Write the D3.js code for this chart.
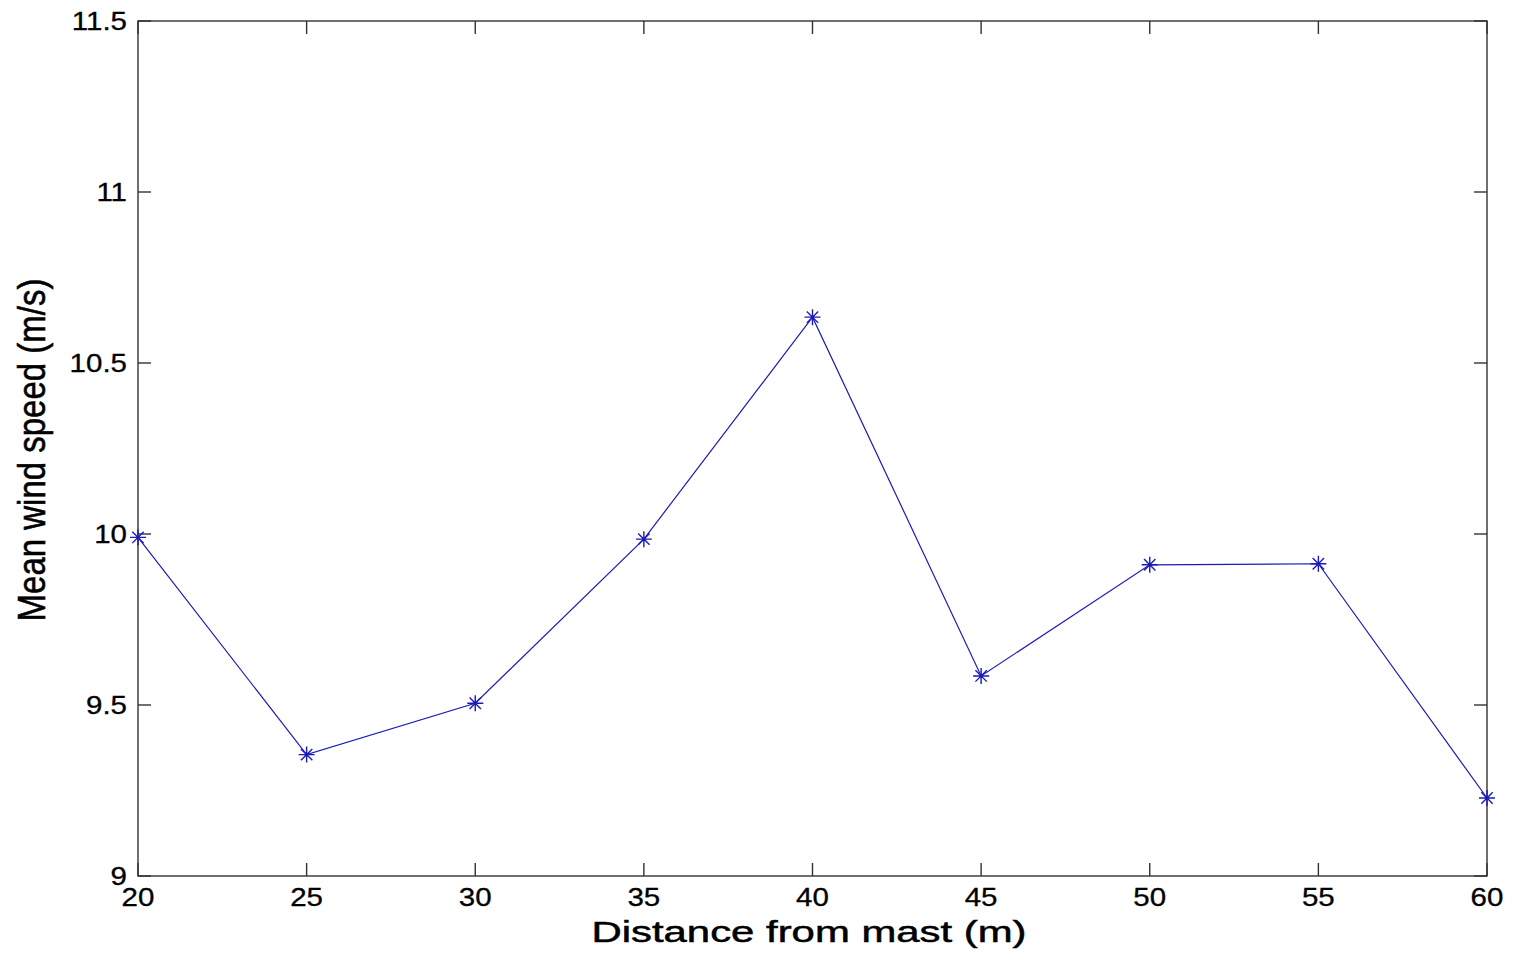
<!DOCTYPE html>
<html>
<head>
<meta charset="utf-8">
<script src="https://cdn.jsdelivr.net/npm/d3@7"></script>
<style>
  body { margin: 0; background: #fff; }
  text { font-family: "Liberation Sans", Arial, sans-serif; fill: #000; stroke: #000; }
</style>
</head>
<body>
<svg id="chart" width="1513" height="953"></svg>
<script>
const distances = [20, 25, 30, 35, 40, 45, 50, 55, 60];
const meanSpeed = [9.99, 9.355, 9.505, 9.985, 10.634, 9.585, 9.91, 9.913, 9.228];
const xTicks = [20, 25, 30, 35, 40, 45, 50, 55, 60];
const yTicks = [9, 9.5, 10, 10.5, 11, 11.5];

const svg = d3.select("#chart");
const margin = { left: 138, right: 1487, top: 21, bottom: 876 };

const x = d3.scaleLinear().domain([20, 60]).range([margin.left, margin.right]);
const y = d3.scaleLinear().domain([9, 11.5]).range([margin.bottom, margin.top]);
const tickLen = 13;
const stretch = 1.18; // the picture is wider than tall, text looks stretched

// box
svg.append("rect")
  .attr("x", margin.left).attr("y", margin.top)
  .attr("width", margin.right - margin.left)
  .attr("height", margin.bottom - margin.top)
  .attr("fill", "none").attr("stroke", "#333").attr("stroke-width", 1.4);

// ticks, inward on all sides
const tickGroup = svg.append("g").attr("stroke", "#333").attr("stroke-width", 1.4);
xTicks.forEach(t => {
  tickGroup.append("line").attr("x1", x(t)).attr("x2", x(t))
    .attr("y1", margin.bottom).attr("y2", margin.bottom - tickLen);
  tickGroup.append("line").attr("x1", x(t)).attr("x2", x(t))
    .attr("y1", margin.top).attr("y2", margin.top + tickLen);
});
yTicks.forEach(t => {
  tickGroup.append("line").attr("y1", y(t)).attr("y2", y(t))
    .attr("x1", margin.left).attr("x2", margin.left + tickLen);
  tickGroup.append("line").attr("y1", y(t)).attr("y2", y(t))
    .attr("x1", margin.right).attr("x2", margin.right - tickLen);
});

// tick labels
svg.append("g").selectAll("text")
  .data(xTicks).enter().append("text")
  .attr("transform", d => `translate(${x(d)},${margin.bottom + 30}) scale(${stretch},1)`)
  .attr("text-anchor", "middle")
  .attr("stroke-width", 0.3)
  .style("font-size", "25px")
  .text(d => d);

svg.append("g").selectAll("text")
  .data(yTicks).enter().append("text")
  .attr("transform", d => `translate(${margin.left - 11},${y(d) + 9}) scale(${stretch},1)`)
  .attr("text-anchor", "end")
  .attr("stroke-width", 0.3)
  .style("font-size", "25px")
  .text(d => d3.format("")(d));

// axis labels
svg.append("text")
  .attr("transform", "translate(809,942) scale(1.42,1)")
  .attr("text-anchor", "middle")
  .attr("stroke-width", 0.5)
  .style("font-size", "29.5px")
  .text("Distance from mast (m)");

svg.append("text")
  .attr("transform", "translate(45,450) rotate(-90) scale(1,1.18)")
  .attr("text-anchor", "middle")
  .attr("stroke-width", 0.5)
  .style("font-size", "33px")
  .text("Mean wind speed (m/s)");

// line
const data = distances.map((d, i) => ({ d, v: meanSpeed[i] }));
const line = d3.line().x(p => x(p.d)).y(p => y(p.v));

svg.append("path")
  .datum(data)
  .attr("d", line)
  .attr("fill", "none")
  .attr("stroke", "#1a1ab8")
  .attr("stroke-width", 1.2);

// asterisk markers (+ and x)
const r = 8, rd = 5.7;
const star = `M${-r},0L${r},0M0,${-r}L0,${r}M${-rd},${-rd}L${rd},${rd}M${-rd},${rd}L${rd},${-rd}`;
svg.append("g").selectAll("path")
  .data(data).enter().append("path")
  .attr("transform", p => `translate(${x(p.d)},${y(p.v)})`)
  .attr("d", star)
  .attr("fill", "none")
  .attr("stroke", "#1a1ab8")
  .attr("stroke-width", 1.4);
</script>
</body>
</html>
